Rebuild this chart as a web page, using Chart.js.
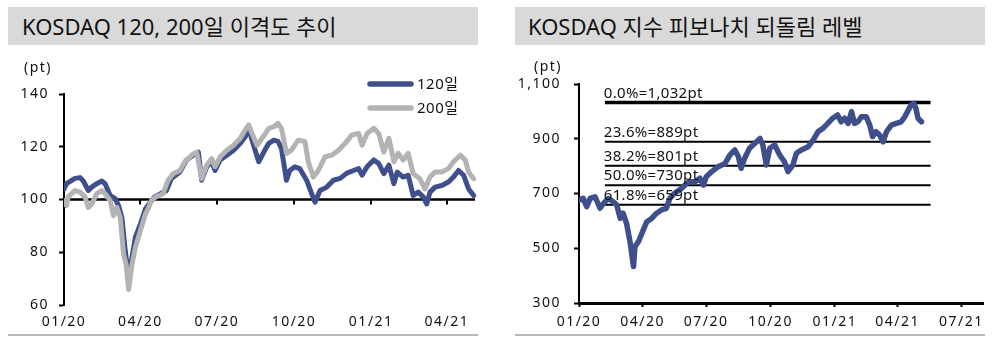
<!DOCTYPE html>
<html><head><meta charset="utf-8">
<script src="https://cdn.jsdelivr.net/npm/chart.js@4.4.1/dist/chart.umd.min.js"></script>
<style>
html,body{margin:0;padding:0;background:#fff;width:1000px;height:352px;overflow:hidden;}
.wrap{position:absolute;top:0;width:500px;height:352px;}
.title{position:absolute;top:7px;height:38px;background:#d9d9d9;font-family:"Noto Sans","Noto Sans CJK KR",sans-serif;font-size:22px;line-height:38px;color:#111;white-space:nowrap;}
.sep{position:absolute;top:334px;height:2px;background:#b8b8b8;}
</style></head><body>
<div class="wrap" style="left:0"><canvas id="c1"></canvas></div>
<div class="wrap" style="left:500px"><canvas id="c2"></canvas></div>
<div class="title" style="left:8px;width:456px;padding-left:14px;">KOSDAQ 120, 200일 이격도 추이</div>
<div class="title" style="left:515px;width:457px;padding-left:13px;">KOSDAQ 지수 피보나치 되돌림 레벨</div>
<div class="sep" style="left:8px;width:470px"></div>
<div class="sep" style="left:515px;width:470px"></div>
<script>
// ---------- data ----------
// x values are days since 2020-01-01
const quarterDays = [0, 91, 182, 274, 366, 456, 547];
const quarterLabels = ['01/20', '04/20', '07/20', '10/20', '01/21', '04/21', '07/21'];

const days120 = [0,3,13,19,23,29,33,39,45,49,55,61,65,69,73,77,81,85,91,97,103,108,114,122,128,138,146,154,160,164,170,176,180,186,194,202,210,216,220,224,232,238,244,250,255,259,265,269,275,281,289,295,299,305,313,321,329,337,345,351,355,361,369,375,381,387,393,397,404,410,416,422,428,432,436,442,450,458,464,470,476,482,488];
const disp120 = [104,106,108,108.3,107,103.4,104.7,106,107,106,101.5,100.3,97.7,93,80.5,70.3,78,85.6,90.7,96.4,99,101,102,103.4,108,110.4,115,116.8,118,107.3,112.4,114.3,111,115,116.8,118.7,121.3,123.8,127,122.5,114.3,118,121.3,122.5,122,119.4,107.3,111,112.4,111.7,107.3,102.2,99,103.4,104.7,107.3,108,110,111,111.7,109.2,112.4,115,113.6,109.8,113,106,110.4,108.5,109.2,101.5,102.8,101,98.3,102.8,104.7,105.3,106.6,108.5,111,109.2,104,101.5];

const days200 = [0,3,5,13,19,25,29,33,39,45,49,55,59,63,67,71,74,77,81,85,91,97,101,104,110,118,124,130,138,144,152,158,164,170,176,180,186,194,202,210,216,220,224,230,236,244,250,255,259,265,271,279,287,291,297,303,311,319,327,335,343,351,355,361,369,375,381,387,393,398,404,410,416,424,430,436,442,450,458,464,472,478,482,488];
const disp200 = [99.6,97.7,101,103.4,102.8,101,97,98.3,102.2,103.4,102.2,99.6,93.9,97,93.2,79.2,75.4,65.9,75.4,81.8,88.2,94.5,97,99.6,101.1,102.2,107.3,109.8,111,114.3,116.8,118,107.9,113,115.5,112.4,116.2,118.7,120.6,123.2,126.4,128.3,125,120.6,123.2,127,127.6,128.9,127,117.5,118.7,122.5,122,114.3,108.5,111,116.2,116.8,118.7,121.3,124.5,125,120.6,125,127,125,118,123.2,114.3,117.5,115,117.5,109.8,107.9,104,108.5,110.4,110.4,111.7,114.3,116.8,115,110.4,107.9];

const kosdaqDays = [0,6,11,16,23,30,35,42,49,54,59,63,68,73,78,80,85,90,97,104,111,118,125,130,137,147,154,159,166,173,178,182,190,199,209,216,223,228,232,237,244,254,259,263,268,273,280,287,294,299,306,311,318,328,335,342,349,356,363,370,375,380,385,390,394,399,404,411,416,420,425,430,435,440,447,454,461,466,470,475,479,482,485,490];
const kosdaqValues = [676,682,652,682,688,646,664,682,670,658,609,628,591,524,433,506,524,555,597,609,628,640,646,682,701,719,737,743,743,756,731,761,780,798,810,841,859,835,792,829,865,889,901,877,804,865,877,841,816,780,804,847,859,871,895,926,938,956,975,987,962,975,956,999,956,962,980,980,950,908,926,914,889,926,950,956,962,980,999,1023,1029,1011,975,962];

const fibPercents = ['0.0%', '23.6%', '38.2%', '50.0%', '61.8%'];
const fibLevels = [1032, 889, 801, 730, 659];
const fibStartDay = 37, fibEndDay = 503;

const series1Labels = ['120일', '200일'];
const leftYTicks = [60, 80, 100, 120, 140];
const rightYTicks = [300, 500, 700, 900, 1100];

// ---------- style ----------
const FONT = '"Noto Sans","Noto Sans CJK KR",sans-serif';
const BLUE = '#3e4f8c', GRAY = '#b3b3b3', INK = '#111';
Chart.defaults.font.family = FONT;
Chart.defaults.font.size = 14;
Chart.defaults.color = INK;
Chart.defaults.animation = false;

const spacing = {
  id: 'spacing',
  beforeUpdate(c) { c.ctx.letterSpacing = '1.5px'; },
  beforeLayout(c) { c.ctx.letterSpacing = '1.5px'; },
  beforeDraw(c) { c.ctx.letterSpacing = '1.5px'; }
};

const unitLabel = (dx, dy) => ({
  id: 'unitLabel',
  afterDraw(c) {
    const ctx = c.ctx, a = c.chartArea;
    ctx.save();
    ctx.font = '14px ' + FONT; ctx.fillStyle = INK;
    ctx.textAlign = 'center'; ctx.textBaseline = 'middle';
    ctx.fillText('(pt)', a.left + dx, a.top + dy);
    ctx.restore();
  }
});

function lineData(xs, ys) { return xs.map((x, i) => ({x: x, y: ys[i]})); }

function xScale(maxDay, tickLen, pad, border) {
  return {
    type: 'linear', min: 0, max: maxDay,
    afterBuildTicks(s) { s.ticks = quarterDays.filter(d => d <= maxDay).map(v => ({value: v})); },
    afterFit(s) { s.height = 352 - (border ? 303 : 305); },
    ticks: {
      autoSkip: false, maxRotation: 0, padding: pad,
      font: {size: 14}, color: INK,
      callback(v) { const i = quarterDays.indexOf(v); return i >= 0 ? quarterLabels[i] : ''; }
    },
    grid: {display: border, drawOnChartArea: false, drawTicks: border, tickLength: tickLen, tickWidth: 2, tickColor: '#000', color: '#000'},
    border: {display: border, width: 3, color: '#000'}
  };
}

// ---------- left chart ----------
const baseLine = {
  id: 'baseLine',
  beforeDatasetsDraw(c) {
    const ctx = c.ctx, x = c.scales.x, y = c.scales.y;
    const py = y.getPixelForValue(100);
    ctx.save();
    ctx.strokeStyle = '#000'; ctx.lineWidth = 2.5;
    ctx.beginPath(); ctx.moveTo(c.chartArea.left, py); ctx.lineTo(c.chartArea.right - 2, py); ctx.stroke();
    ctx.lineWidth = 2;
    quarterDays.forEach(d => {
      if (d > 0 && d <= x.max) {
        const px = Math.round(x.getPixelForValue(d));
        ctx.beginPath(); ctx.moveTo(px, py); ctx.lineTo(px, py + 5); ctx.stroke();
      }
    });
    ctx.restore();
  }
};

const legendPlugin = {
  id: 'legendPlugin',
  afterDraw(c) {
    const ctx = c.ctx;
    c.data.datasets.forEach((ds, i) => {
      const y = 84 + i * 24;
      ctx.save();
      ctx.strokeStyle = ds.borderColor; ctx.lineWidth = 5.5; ctx.lineCap = 'round';
      ctx.beginPath(); ctx.moveTo(370, y); ctx.lineTo(411, y); ctx.stroke();
      ctx.fillStyle = INK; ctx.font = '15px ' + FONT; ctx.letterSpacing = '0.5px';
      ctx.textAlign = 'left'; ctx.textBaseline = 'middle';
      ctx.fillText(ds.label, 417, y + 1);
      ctx.restore();
    });
  }
};

new Chart(document.getElementById('c1'), {
  type: 'line',
  data: {
    datasets: [
      {label: series1Labels[0], data: lineData(days120, disp120), borderColor: BLUE, borderWidth: 5, order: 1},
      {label: series1Labels[1], data: lineData(days200, disp200), borderColor: GRAY, borderWidth: 5, order: 0}
    ]
  },
  options: {
    responsive: true, maintainAspectRatio: false,
    layout: {padding: {left: 0, top: 94, right: 23, bottom: 0}},
    elements: {point: {radius: 0}, line: {tension: 0, borderJoinStyle: 'round', borderCapStyle: 'round'}},
    plugins: {legend: {display: false}, tooltip: {enabled: false}},
    scales: {
      x: xScale(492, 0, 9, false),
      y: {
        min: 60, max: 140,
        afterBuildTicks(s) { s.ticks = leftYTicks.map(v => ({value: v})); },
        afterFit(s) { s.width = 64; },
        ticks: {padding: 10, font: {size: 14}, color: INK},
        grid: {drawOnChartArea: false, drawTicks: true, tickLength: 5, tickWidth: 2, tickColor: '#000'},
        border: {display: true, width: 2, color: '#000'}
      }
    }
  },
  plugins: [spacing, baseLine, legendPlugin, unitLabel(-26, -26)]
});

// ---------- right chart ----------
const fibLabels = {
  id: 'fibLabels',
  afterDatasetsDraw(c) {
    const ctx = c.ctx, x = c.scales.x, y = c.scales.y;
    ctx.save();
    ctx.font = '15px ' + FONT; ctx.fillStyle = INK; ctx.letterSpacing = '0.3px';
    ctx.textAlign = 'left'; ctx.textBaseline = 'alphabetic';
    fibLevels.forEach((v, i) => {
      const txt = fibPercents[i] + '=' + v.toLocaleString('en-US') + 'pt';
      ctx.fillText(txt, x.getPixelForValue(fibStartDay) - 1, y.getPixelForValue(v) - 5);
    });
    ctx.restore();
  }
};

const fibSets = fibLevels.map((v, i) => ({
  label: fibPercents[i],
  data: [{x: fibStartDay, y: v}, {x: fibEndDay, y: v}],
  borderColor: '#000', borderWidth: i === 0 ? 3.5 : 2, borderCapStyle: 'butt', order: 1
}));

new Chart(document.getElementById('c2'), {
  type: 'line',
  data: {
    datasets: [
      {label: 'KOSDAQ', data: lineData(kosdaqDays, kosdaqValues), borderColor: BLUE, borderWidth: 5.5, order: 0}
    ].concat(fibSets)
  },
  options: {
    responsive: true, maintainAspectRatio: false,
    layout: {padding: {left: 0, top: 84, right: 17, bottom: 0}},
    elements: {point: {radius: 0}, line: {tension: 0, borderJoinStyle: 'round', borderCapStyle: 'round'}},
    plugins: {legend: {display: false}, tooltip: {enabled: false}},
    scales: {
      x: xScale(578, 4, 7, true),
      y: {
        min: 300, max: 1100,
        afterBuildTicks(s) { s.ticks = rightYTicks.map(v => ({value: v})); },
        afterFit(s) { s.width = 79; },
        ticks: {padding: 13, font: {size: 14}, color: INK, callback: v => v.toLocaleString('en-US')},
        grid: {drawOnChartArea: false, drawTicks: true, tickLength: 5, tickWidth: 2, tickColor: '#000'},
        border: {display: true, width: 2, color: '#000'}
      }
    }
  },
  plugins: [spacing, fibLabels, unitLabel(-31, -17)]
});
</script>
</body></html>
